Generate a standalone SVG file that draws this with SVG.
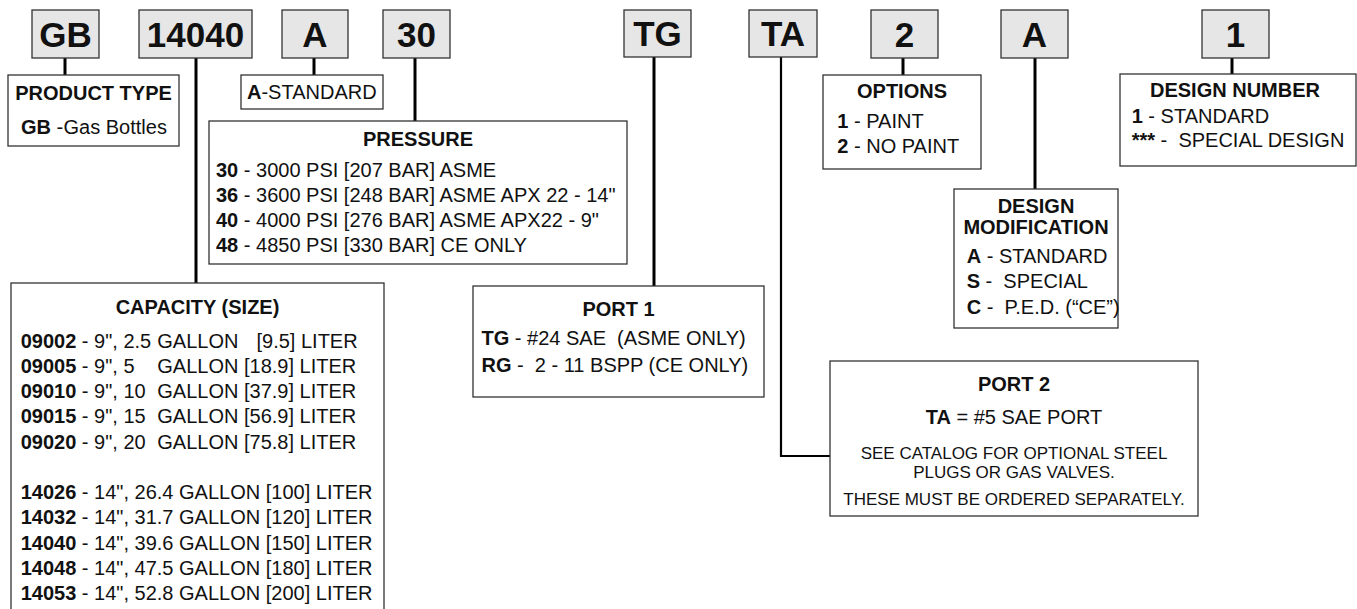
<svg xmlns="http://www.w3.org/2000/svg" width="1357" height="609" viewBox="0 0 1357 609">
<style>
text{font-family:"Liberation Sans",Arial,sans-serif;fill:#111;white-space:pre}
.hdr{fill:#e6e6e6;stroke:#333;stroke-width:1.3}
.box{fill:#fff;stroke:#333;stroke-width:1.3}
.conn{stroke:#000;stroke-width:3;fill:none}
.thin{stroke-width:2.2}
.h{font-size:35px;font-weight:bold;text-anchor:middle}
.t{font-size:20px}
.c{text-anchor:middle}
.b{font-weight:bold}
.s{font-size:17px;text-anchor:middle}
</style>
<rect width="1357" height="609" fill="#fff"/>
<g id="connectors">
<line class="conn" x1="65" y1="58" x2="65" y2="75"/>
<line class="conn" x1="196" y1="58" x2="196" y2="283"/>
<line class="conn" x1="314" y1="58" x2="314" y2="75"/>
<line class="conn" x1="415" y1="58" x2="415" y2="121"/>
<line class="conn" x1="654" y1="57" x2="654" y2="286"/>
<polyline class="conn thin" points="781,57 781,456 830,456"/>
<line class="conn" x1="903" y1="58" x2="903" y2="75"/>
<line class="conn" x1="1035" y1="58" x2="1035" y2="189"/>
<line class="conn" x1="1232" y1="58" x2="1232" y2="74"/>
</g>
<g id="hdr-gb"><rect class="hdr" x="32" y="10" width="67" height="48"/><text class="h" x="65.5" y="46.5">GB</text></g>
<g id="hdr-14040"><rect class="hdr" x="139" y="10" width="113" height="48"/><text class="h" x="195.5" y="46.5">14040</text></g>
<g id="hdr-a"><rect class="hdr" x="282" y="10" width="66" height="48"/><text class="h" x="315" y="46.5">A</text></g>
<g id="hdr-30"><rect class="hdr" x="383" y="10" width="67" height="48"/><text class="h" x="416.5" y="46.5">30</text></g>
<g id="hdr-tg"><rect class="hdr" x="624" y="10" width="67" height="47"/><text class="h" x="657.5" y="46">TG</text></g>
<g id="hdr-ta"><rect class="hdr" x="749" y="10" width="68" height="47"/><text class="h" x="783" y="46">TA</text></g>
<g id="hdr-2"><rect class="hdr" x="871" y="10" width="67" height="48"/><text class="h" x="904.5" y="46.5">2</text></g>
<g id="hdr-a2"><rect class="hdr" x="1001" y="10" width="67" height="48"/><text class="h" x="1034.5" y="46.5">A</text></g>
<g id="hdr-1"><rect class="hdr" x="1202" y="10" width="67" height="48"/><text class="h" x="1235.5" y="46.5">1</text></g>

<g id="product-type">
<rect class="box" x="8" y="75" width="171" height="71"/>
<text class="t b c" x="93.5" y="100">PRODUCT TYPE</text>
<text class="t" x="21" y="134"><tspan class="b">GB</tspan> -<tspan x="63.5">Gas Bottles</tspan></text>
</g>

<g id="a-standard">
<rect class="box" x="241" y="75" width="142" height="34"/>
<text class="t" x="247" y="98.5"><tspan class="b">A</tspan>-STANDARD</text>
</g>

<g id="pressure">
<rect class="box" x="209" y="121" width="418" height="143"/>
<text class="t b c" x="418" y="146">PRESSURE</text>
<text class="t" x="216" y="177"><tspan class="b">30</tspan> - 3000 PSI [207 BAR] ASME</text>
<text class="t" x="216" y="202"><tspan class="b">36</tspan> - 3600 PSI [248 BAR] ASME APX 22 - 14"</text>
<text class="t" x="216" y="227"><tspan class="b">40</tspan> - 4000 PSI [276 BAR] ASME APX22 - 9"</text>
<text class="t" x="216" y="252"><tspan class="b">48</tspan> - 4850 PSI [330 BAR] CE ONLY</text>
</g>

<g id="capacity">
<rect class="box" x="11" y="283" width="373" height="340"/>
<text class="t b c" x="197.5" y="314">CAPACITY (SIZE)</text>
<text class="t" x="20.7" y="347.5"><tspan class="b">09002</tspan> - 9", 2.5 <tspan x="157.3">GALLON</tspan><tspan x="256.5">[9.5] LITER</tspan></text>
<text class="t" x="20.7" y="372.8"><tspan class="b">09005</tspan> - 9", 5 <tspan x="157.3">GALLON [18.9] LITER</tspan></text>
<text class="t" x="20.7" y="398"><tspan class="b">09010</tspan> - 9", 10 <tspan x="157.3">GALLON [37.9] LITER</tspan></text>
<text class="t" x="20.7" y="423.3"><tspan class="b">09015</tspan> - 9", 15 <tspan x="157.3">GALLON [56.9] LITER</tspan></text>
<text class="t" x="20.7" y="448.5"><tspan class="b">09020</tspan> - 9", 20 <tspan x="157.3">GALLON [75.8] LITER</tspan></text>
<text class="t" x="20.7" y="499"><tspan class="b">14026</tspan> - 14", 26.4 GALLON [100] LITER</text>
<text class="t" x="20.7" y="524.3"><tspan class="b">14032</tspan> - 14", 31.7 GALLON [120] LITER</text>
<text class="t" x="20.7" y="549.6"><tspan class="b">14040</tspan> - 14", 39.6 GALLON [150] LITER</text>
<text class="t" x="20.7" y="574.8"><tspan class="b">14048</tspan> - 14", 47.5 GALLON [180] LITER</text>
<text class="t" x="20.7" y="600"><tspan class="b">14053</tspan> - 14", 52.8 GALLON [200] LITER</text>
</g>

<g id="port1">
<rect class="box" x="473" y="286" width="291" height="111"/>
<text class="t b c" x="618.5" y="316">PORT 1</text>
<text class="t" x="481.5" y="345"><tspan class="b">TG</tspan> - #24 SAE  (ASME ONLY)</text>
<text class="t" x="481.5" y="371.5"><tspan class="b">RG</tspan> -  2 - 11 BSPP (CE ONLY)</text>
</g>

<g id="port2">
<rect class="box" x="830" y="361" width="368" height="155"/>
<text class="t b c" x="1014" y="391">PORT 2</text>
<text class="t c" x="1014" y="424"><tspan class="b">TA</tspan> = #5 SAE PORT</text>
<text class="s" x="1014" y="459">SEE CATALOG FOR OPTIONAL STEEL</text>
<text class="s" x="1014" y="478">PLUGS OR GAS VALVES.</text>
<text class="s" x="1014" y="505">THESE MUST BE ORDERED SEPARATELY.</text>
</g>

<g id="options">
<rect class="box" x="823" y="75" width="158" height="94"/>
<text class="t b c" x="902" y="97.7">OPTIONS</text>
<text class="t" x="837.3" y="127.7"><tspan class="b">1</tspan> - PAINT</text>
<text class="t" x="837.3" y="152.7"><tspan class="b">2</tspan> - NO PAINT</text>
</g>

<g id="design-modification">
<rect class="box" x="954" y="189" width="164" height="139"/>
<text class="t b c" x="1036" y="213.3">DESIGN</text>
<text class="t b c" x="1036" y="234">MODIFICATION</text>
<text class="t" x="966.7" y="262.7"><tspan class="b">A</tspan> - STANDARD</text>
<text class="t" x="966.7" y="288.3"><tspan class="b">S</tspan> -  SPECIAL</text>
<text class="t" x="966.7" y="314"><tspan class="b">C</tspan> -  P.E.D. (“CE”)</text>
</g>

<g id="design-number">
<rect class="box" x="1120" y="74" width="236" height="92"/>
<text class="t b c" x="1235" y="96.7">DESIGN NUMBER</text>
<text class="t" x="1131.7" y="122.7"><tspan class="b">1</tspan> - STANDARD</text>
<text class="t" x="1131.7" y="146.7"><tspan class="b">***</tspan> -  SPECIAL DESIGN</text>
</g>
</svg>
